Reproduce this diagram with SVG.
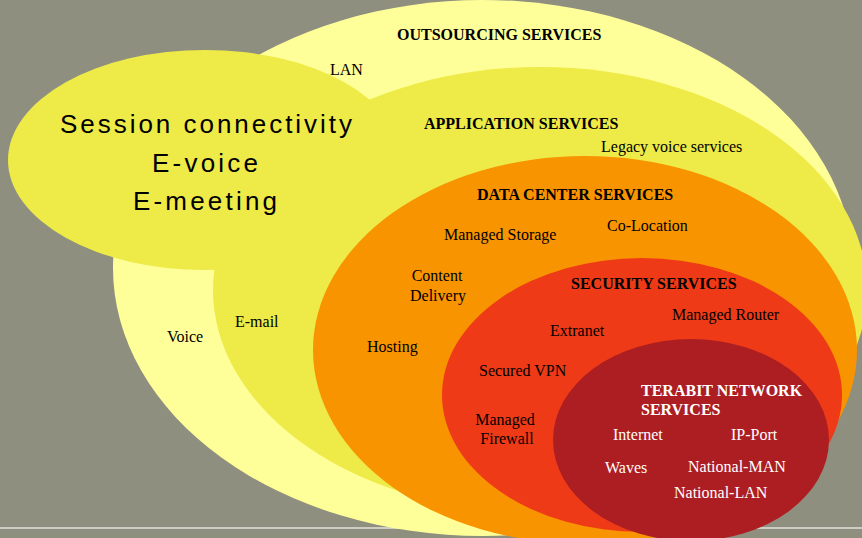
<svg xmlns="http://www.w3.org/2000/svg" width="862" height="538" viewBox="0 0 862 538">
<style>
  .t { font-family: "Liberation Serif", "Times New Roman", serif; font-size: 16px; fill: #000; }
  .h { font-family: "Liberation Serif", "Times New Roman", serif; font-size: 16px; font-weight: bold; fill: #000; }
  .w { fill: #fff; }
  .big { font-family: "Liberation Sans", Arial, sans-serif; font-size: 26px; fill: #000; }
</style>
<rect width="862" height="538" fill="#8f8f80"/>
<line x1="0" y1="528" x2="862" y2="528" stroke="#e2e2da" stroke-width="1.3"/>
<g id="outsourcing">
  <ellipse cx="483" cy="268" rx="370" ry="268" fill="#ffff99"/>
  <text class="h" x="397" y="40">OUTSOURCING SERVICES</text>
  <text class="t" x="330" y="75">LAN</text>
  <text class="t" x="167" y="342">Voice</text>
</g>
<g id="application">
  <ellipse cx="540" cy="290" rx="327" ry="223" fill="#eeea48"/>
  <text class="h" x="424" y="129">APPLICATION SERVICES</text>
  <text class="t" x="601" y="152">Legacy voice services</text>
  <text class="t" x="235" y="327">E-mail</text>
</g>
<g id="session">
  <ellipse cx="205" cy="160" rx="197" ry="110" fill="#eeea48"/>
  <text class="big" x="206" y="133" text-anchor="middle" textLength="292" lengthAdjust="spacing">Session connectivity</text>
  <text class="big" x="205" y="172" text-anchor="middle" textLength="106" lengthAdjust="spacing">E-voice</text>
  <text class="big" x="205" y="210" text-anchor="middle" textLength="144" lengthAdjust="spacing">E-meeting</text>
</g>
<g id="datacenter">
  <ellipse cx="585" cy="350" rx="272" ry="194" fill="#f89400"/>
  <text class="h" x="477" y="200">DATA CENTER SERVICES</text>
  <text class="t" x="444" y="240">Managed Storage</text>
  <text class="t" x="607" y="231">Co-Location</text>
  <text class="t" x="437" y="281" text-anchor="middle">Content</text>
  <text class="t" x="438" y="301" text-anchor="middle">Delivery</text>
  <text class="t" x="367" y="352">Hosting</text>
</g>
<g id="security">
  <ellipse cx="642" cy="395" rx="200" ry="137" fill="#ef3a17"/>
  <text class="h" x="571" y="289">SECURITY SERVICES</text>
  <text class="t" x="672" y="320">Managed Router</text>
  <text class="t" x="550" y="336">Extranet</text>
  <text class="t" x="479" y="376">Secured VPN</text>
  <text class="t" x="505" y="425" text-anchor="middle">Managed</text>
  <text class="t" x="507" y="444" text-anchor="middle">Firewall</text>
</g>
<g id="terabit">
  <ellipse cx="691" cy="440" rx="138" ry="101" fill="#ad1e22"/>
  <text class="h w" x="641" y="396">TERABIT NETWORK</text>
  <text class="h w" x="641" y="415">SERVICES</text>
  <text class="t w" x="613" y="440">Internet</text>
  <text class="t w" x="731" y="440">IP-Port</text>
  <text class="t w" x="605" y="473">Waves</text>
  <text class="t w" x="688" y="472">National-MAN</text>
  <text class="t w" x="674" y="498">National-LAN</text>
</g>
<g id="connectors"></g>
</svg>
